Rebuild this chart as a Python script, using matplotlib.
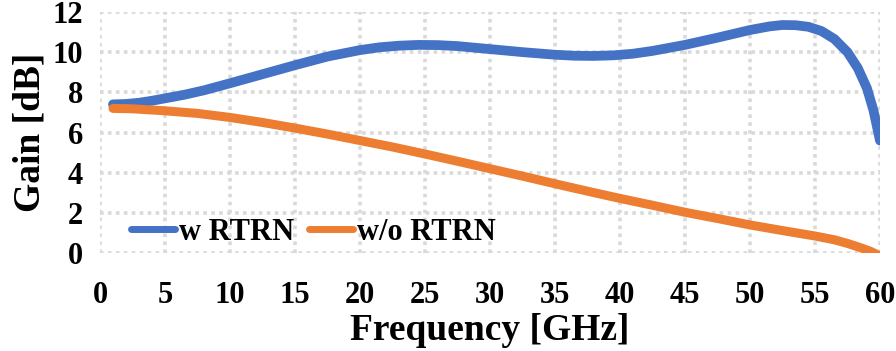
import matplotlib.pyplot as plt

# Frequency [GHz] and gain [dB]
freq_w = [1, 2, 3, 4, 5, 6.5, 8, 10, 12.5, 15, 17.5, 20, 21.5, 23, 24.5, 26,
          27.5, 30, 32.5, 35, 36.5, 38, 39.5, 41, 42.5, 45, 47.5, 50, 51.5,
          52.5, 53.5, 54.5, 55.5, 56.5, 57.5, 58.3, 59, 59.5, 60]
gain_w = [7.4, 7.42, 7.48, 7.58, 7.7, 7.88, 8.1, 8.45, 8.9, 9.35, 9.78, 10.1,
          10.24, 10.32, 10.36, 10.35, 10.3, 10.15, 10.0, 9.87, 9.82, 9.81,
          9.84, 9.92, 10.06, 10.36, 10.72, 11.1, 11.28, 11.35, 11.34, 11.26,
          11.05, 10.65, 10.0, 9.2, 8.2, 7.1, 5.6]

freq_wo = [1, 2.5, 5, 7.5, 10, 12.5, 15, 17.5, 20, 22.5, 25, 27.5, 30, 32.5, 35,
           37.5, 40, 42.5, 45, 47.5, 50, 52.5, 55, 56.5, 57.5, 58.5, 59.3, 60]
gain_wo = [7.2, 7.18, 7.08, 6.95, 6.75, 6.5, 6.22, 5.92, 5.6, 5.28, 4.93, 4.57,
           4.2, 3.83, 3.45, 3.08, 2.72, 2.38, 2.03, 1.72, 1.4, 1.12, 0.85,
           0.66, 0.48, 0.27, 0.08, -0.15]

BLUE = '#4472c4'
ORANGE = '#ed7d31'

plt.rcParams['font.family'] = ['Liberation Serif', 'DejaVu Serif']
plt.rcParams['font.weight'] = 'bold'

fig = plt.figure(figsize=(8.96, 3.51), dpi=100)
ax = fig.add_axes([0.1116, 0.279, 0.8705, 0.687])

ax.plot(freq_w, gain_w, color=BLUE, lw=7, solid_capstyle='round',
        solid_joinstyle='round', label='w RTRN', zorder=3)
ax.plot(freq_wo, gain_wo, color=ORANGE, lw=6.5, solid_capstyle='round',
        solid_joinstyle='round', label='w/o RTRN', zorder=3)

ax.set_xlim(0, 60)
ax.set_ylim(0, 12)
ax.set_xticks(range(0, 61, 5))
ax.set_yticks(range(0, 13, 2))
ax.grid(True, color='#d9d9d9', linestyle=(0, (1, 1.2)), lw=2.6)
for s in ax.spines.values():
    s.set_visible(False)
ax.tick_params(axis='x', length=0, labelsize=22, pad=20)
ax.tick_params(axis='y', length=0, labelsize=22, pad=12)
for lbl in ax.get_xticklabels() + ax.get_yticklabels():
    lbl.set_fontweight('bold')

ax.set_xlabel('Frequency [GHz]', fontsize=27, fontweight='bold', labelpad=2)
ax.set_ylabel('Gain [dB]', fontsize=27, fontweight='bold', labelpad=4)

leg = ax.legend(loc='lower left', ncol=2, frameon=False,
                handlelength=1.45, handletextpad=0.12, columnspacing=0.5,
                bbox_to_anchor=(0.012, -0.062), borderaxespad=0.3,
                prop={'weight': 'bold', 'size': 22})
for h in leg.get_lines():
    h.set_linewidth(5)

fig.savefig('out.png', dpi=100)
